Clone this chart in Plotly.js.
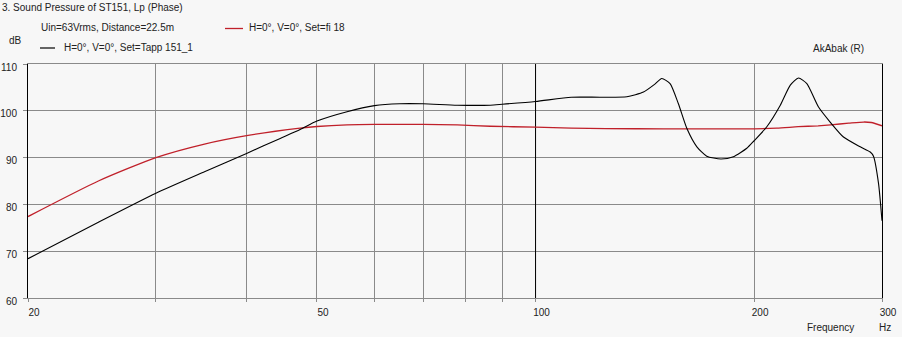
<!DOCTYPE html>
<html>
<head>
<meta charset="utf-8">
<script src="https://cdn.plot.ly/plotly-3.0.1.min.js"></script>
<style>
html,body{margin:0;padding:0;background:#f7f7f7;}
#chart{width:902px;height:337px;}
</style>
</head>
<body>
<div id="chart"></div>
<script>
// Series: Set=Tapp 151_1 (black)
const freqTapp = [20, 25, 30, 35, 40, 44.5, 47.4, 50, 55, 60, 65, 70, 78, 86.6, 90, 100, 112, 123, 133.6, 140.8, 146, 149.2, 153.2, 157.3, 161.6, 166.8, 172.1, 180, 187.3, 195.4, 200, 208.2, 217.3, 224.3, 230.2, 236.4, 245.3, 254.5, 265.5, 280, 289, 292, 296.7, 300];
const splTapp  = [68.4, 76.2, 82.4, 87.0, 90.9, 94.1, 96.0, 97.8, 99.8, 101.1, 101.5, 101.5, 101.2, 101.2, 101.4, 102.0, 102.9, 102.9, 103.0, 104.0, 105.7, 106.9, 105.8, 101.5, 96.2, 92.3, 90.3, 89.7, 90.2, 92.0, 93.6, 96.6, 101.2, 105.5, 107.0, 105.8, 100.8, 97.6, 94.4, 92.3, 91.2, 90.3, 84.5, 76.5];
// Series: Set=fi 18 (red)
const freqFi = [20, 25, 30, 35, 40, 47.4, 50, 55, 60, 70, 78, 86.6, 100, 112, 125, 150, 200, 215, 230, 245, 255, 270, 283, 290, 300];
const splFi  = [77.4, 85.0, 90.0, 92.9, 94.7, 96.3, 96.65, 97.0, 97.1, 97.1, 97.0, 96.7, 96.5, 96.3, 96.2, 96.15, 96.15, 96.3, 96.6, 96.8, 97.0, 97.35, 97.6, 97.5, 96.8];
// Axis ticks
const xTickVals = [20, 30, 40, 50, 60, 70, 80, 90, 100, 200, 300];
const xTickText = ['20', '', '', '50', '', '', '', '', '100', '200', '300'];
const yTickVals = [60, 70, 80, 90, 100, 110];
const darkGridX = [100];

const W = 902, H = 337, L = 28, R = 20, T = 64, B = 39;
const pw = W - L - R, ph = H - T - B;
const px = v => (v - L) / pw;
const py = v => (H - B - v) / ph;

const font = {family: 'Liberation Sans, Arial, sans-serif', size: 10, color: '#222'};

const traces = [
  {x: [darkGridX[0], darkGridX[0]], y: [60, 110], mode: 'lines', line: {color: '#000', width: 1}, hoverinfo: 'skip', showlegend: false},
  {x: freqFi, y: splFi, mode: 'lines', line: {color: '#c0202a', width: 1.3, shape: 'spline', smoothing: 0.6}, name: 'H=0°, V=0°, Set=fi 18', showlegend: false},
  {x: freqTapp, y: splTapp, mode: 'lines', line: {color: '#000', width: 1.1, shape: 'spline', smoothing: 0.6}, name: 'H=0°, V=0°, Set=Tapp 151_1', showlegend: false}
];

const ann = (text, x, y, xanchor) => ({text, xref: 'paper', yref: 'paper', x: px(x), y: py(y), xanchor: xanchor || 'left', yanchor: 'middle', showarrow: false, font});

const layout = {
  width: W, height: H,
  margin: {l: L, r: R, t: T, b: B},
  paper_bgcolor: '#f7f7f7', plot_bgcolor: '#f7f7f7',
  title: {text: '3. Sound Pressure of ST151, Lp (Phase)', xref: 'container', yref: 'container', x: 2 / W, xanchor: 'left', y: 1 - 7 / H, yanchor: 'middle', font},
  xaxis: {
    type: 'log', range: [Math.log10(20), Math.log10(300)],
    tickvals: xTickVals, ticktext: xTickText,
    showgrid: true, gridcolor: '#8a8a8a', gridwidth: 1,
    showline: true, linecolor: '#8a8a8a', linewidth: 1, mirror: true,
    ticks: 'outside', ticklen: 3, tickcolor: '#8a8a8a',
    tickfont: font, ticklabelshift: 6, ticklabelstandoff: 2,
    zeroline: false
  },
  yaxis: {
    range: [60, 110], tickvals: yTickVals,
    showgrid: true, gridcolor: '#8a8a8a', gridwidth: 1,
    showline: true, linecolor: '#000', linewidth: 1, mirror: true,
    ticks: 'outside', ticklen: 4, tickcolor: '#8a8a8a',
    tickfont: font, ticklabelshift: 3, ticklabelstandoff: 4,
    zeroline: false
  },
  shapes: [
    {type: 'line', xref: 'paper', yref: 'paper', x0: px(225), x1: px(243), y0: py(28.5), y1: py(28.5), line: {color: '#c0202a', width: 1.3}},
    {type: 'line', xref: 'paper', yref: 'paper', x0: px(40), x1: px(55), y0: py(48), y1: py(48), line: {color: '#000', width: 1.2}}
  ],
  annotations: [
    ann('Uin=63Vrms, Distance=22.5m', 39, 27.5),
    ann('H=0°, V=0°, Set=fi 18', 247, 27.5),
    ann('dB', 7, 41),
    ann('H=0°, V=0°, Set=Tapp 151_1', 62, 47),
    ann('AkAbak (R)', 811, 48),
    ann('Frequency', 805, 327),
    ann('Hz', 877, 327)
  ],
  showlegend: false
};

Plotly.newPlot('chart', traces, layout, {displayModeBar: false, staticPlot: true});
</script>
</body>
</html>
